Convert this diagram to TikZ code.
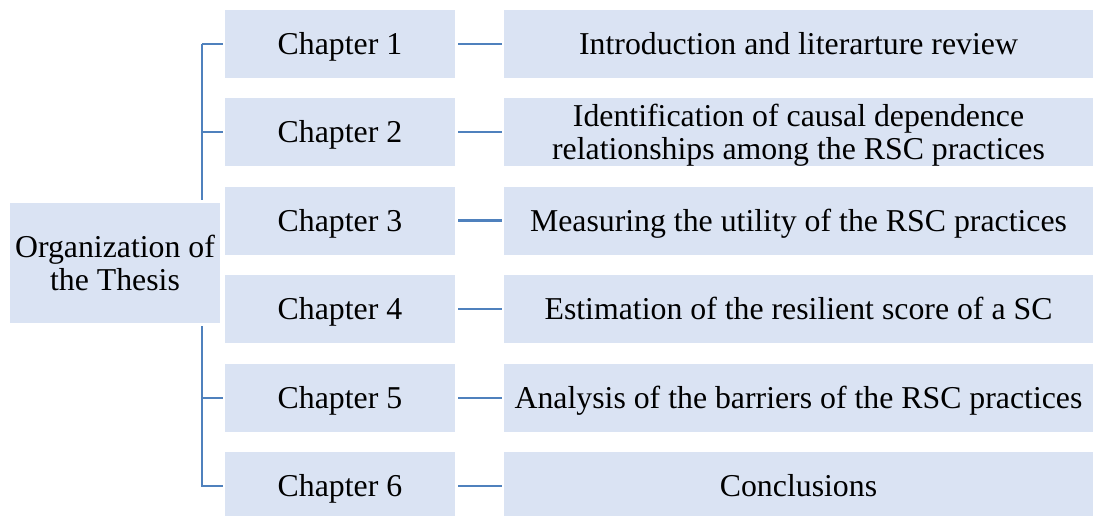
\documentclass[tikz,border=0pt]{standalone}
\usepackage{fontspec}
\setmainfont{Liberation Serif}
\definecolor{boxfill}{RGB}{218,227,243}
\definecolor{conncol}{RGB}{79,129,189}
\newcommand{\twolines}[2]{\begin{tabular}[t]{@{}c@{}}#1\\#2\end{tabular}}
\begin{document}
\begin{tikzpicture}[x=1pt,y=-1pt,
  box/.style={rectangle,fill=boxfill,inner sep=0pt,font=\fontsize{31.8}{32.5}\selectfont,text height=28pt,text depth=7pt},
  twoline/.style={text height=10pt,text depth=21pt},
  chap/.style={box,minimum width=230,minimum height=68},
  desc/.style={box,minimum width=589,minimum height=68},
  conn/.style={draw=conncol,line width=2.25pt},
]
\useasboundingbox (0,0) rectangle (1094,515);
\coordinate (sx) at (202,0);
% chapter boxes
\node[chap] (c1) at (340,44) {Chapter 1};
\node[chap] (c2) at (340,132) {Chapter 2};
\node[chap] (c3) at (340,220.5) {Chapter 3};
\node[chap] (c4) at (340,309) {Chapter 4};
\node[chap] (c5) at (340,398) {Chapter 5};
\node[chap] (c6) at (340,486) {Chapter 6};
% description boxes
\node[desc] (d1) at (798.5,44) {Introduction and literarture review};
\node[desc,twoline] (d2) at (798.5,132) {\twolines{Identification of causal dependence}{relationships among the RSC practices}};
\node[desc] (d3) at (798.5,220.5) {Measuring the utility of the RSC practices};
\node[desc] (d4) at (798.5,309) {Estimation of the resilient score of a SC};
\node[desc] (d5) at (798.5,398) {Analysis of the barriers of the RSC practices};
\node[desc] (d6) at (798.5,486) {Conclusions};
% spine
\draw[conn,shorten >=2pt] (c1.west -| sx) -- (sx |- c6.west) -- (c6.west);
\draw[conn,shorten >=2pt] (c1.west -| sx) -- (c1.west);
\foreach \i in {2,...,5}{
  \draw[conn,shorten >=2pt] (c\i.west -| sx) -- (c\i.west);
}
% left box (white ring hides spine)
\node[box,twoline,draw=white,line width=3pt,minimum width=213,minimum height=123] (org) at (115,263) {\fontsize{31.8}{33}\selectfont\twolines{Organization of}{the Thesis}};
% chapter to description
\foreach \i in {1,...,6}{
  \draw[conn,shorten <=3pt,shorten >=2pt] (c\i.east) -- (d\i.west);
}
\end{tikzpicture}
\end{document}
